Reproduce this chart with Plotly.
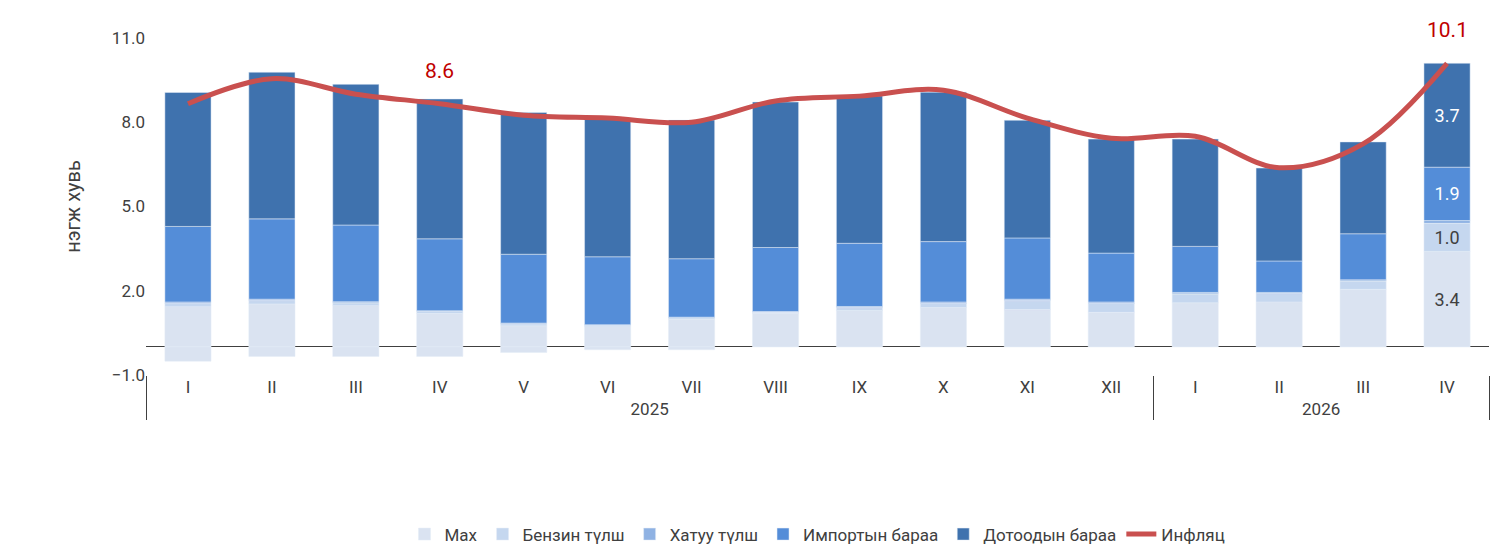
import plotly.graph_objects as go

years = ["2025"] * 12 + ["2026"] * 4
months = ["I", "II", "III", "IV", "V", "VI", "VII", "VIII", "IX", "X", "XI", "XII",
          "I", "II", "III", "IV"]

mah = [1.43, 1.53, 1.47, 1.19, 0.75, 0.72, 0.99, 1.19, 1.30, 1.40, 1.33, 1.23, 1.57, 1.60, 2.05, 3.4]
benzin_pos = [0.12, 0.12, 0.10, 0.07, 0.07, 0.05, 0.05, 0.05, 0.10, 0.15, 0.32, 0.32, 0.32, 0.30, 0.30, 1.0]
benzin_neg = [-0.51, -0.34, -0.34, -0.34, -0.20, -0.10, -0.10, 0, 0, 0, 0, 0, 0, 0, 0, 0]
hatuu = [0.05, 0.05, 0.04, 0.03, 0.03, 0.02, 0.02, 0.02, 0.04, 0.05, 0.05, 0.05, 0.05, 0.04, 0.04, 0.1]
import_goods = [2.69, 2.86, 2.73, 2.56, 2.45, 2.42, 2.08, 2.28, 2.25, 2.15, 2.18, 1.74, 1.64, 1.12, 1.64, 1.9]
domestic = [4.77, 5.22, 5.01, 4.98, 5.05, 4.91, 4.94, 5.18, 5.25, 5.32, 4.19, 4.06, 3.82, 3.31, 3.27, 3.7]
inflation = [8.66, 9.55, 9.0, 8.66, 8.25, 8.15, 8.0, 8.76, 8.93, 9.14, 8.15, 7.43, 7.5, 6.38, 7.23, 10.1]
line_labels = {3: "8.6", 15: "10.1"}

x = [years, months]
font = "Roboto"


def last_label(vals):
    return [""] * (len(vals) - 1) + [f"{vals[-1]:.1f}"]


fig = go.Figure()
fig.add_bar(x=x, y=mah, name="Мах", marker_color="#dae3f1",
            text=last_label(mah), textposition="inside", insidetextanchor="middle",
            textfont=dict(color="#404040", size=18))
fig.add_bar(x=x, y=benzin_pos, name="Бензин түлш", marker_color="#c5d7ef",
            text=last_label(benzin_pos), textposition="inside", insidetextanchor="middle",
            textfont=dict(color="#404040", size=18))
fig.add_bar(x=x, y=benzin_neg, name="Бензин түлш", marker_color="#dae3f1",
            showlegend=False)
fig.add_bar(x=x, y=hatuu, name="Хатуу түлш", marker_color="#8fb2e3")
fig.add_bar(x=x, y=import_goods, name="Импортын бараа", marker_color="#548dd8",
            text=last_label(import_goods), textposition="inside", insidetextanchor="middle",
            textfont=dict(color="white", size=18))
fig.add_bar(x=x, y=domestic, name="Дотоодын бараа", marker_color="#3f72ae",
            text=last_label(domestic), textposition="inside", insidetextanchor="middle",
            textfont=dict(color="white", size=18))
fig.add_scatter(x=x, y=inflation, name="Инфляц", mode="lines",
                line=dict(color="#c9504f", width=5, shape="spline"))

# value labels on the line
for i, txt in line_labels.items():
    fig.add_annotation(x=[years[i], months[i]], y=inflation[i], text=txt,
                       showarrow=False, yshift=33, font=dict(color="#c00000", size=21))

fig.update_layout(
    barmode="relative",
    bargap=0.45,
    width=1506, height=556,
    plot_bgcolor="white", paper_bgcolor="white",
    font=dict(family=font, size=17, color="#404040"),
    margin=dict(l=138, r=25, t=30, b=174),
    legend=dict(orientation="h", x=0.5, xanchor="center", y=-0.42, yanchor="top",
                font=dict(size=17), traceorder="normal"),
    showlegend=True,
)
fig.update_yaxes(range=[-1, 11], tickvals=[-1, 2, 5, 8, 11], tickformat=".1f",
                 showgrid=False, zeroline=True, zerolinecolor="#404040", zerolinewidth=1,
                 title=dict(text="нэгж хувь", standoff=25))
fig.update_xaxes(showline=False, showdividers=True, dividercolor="#404040",
                 dividerwidth=1, ticks="", tickfont=dict(size=17))

fig.write_html("out.html")
